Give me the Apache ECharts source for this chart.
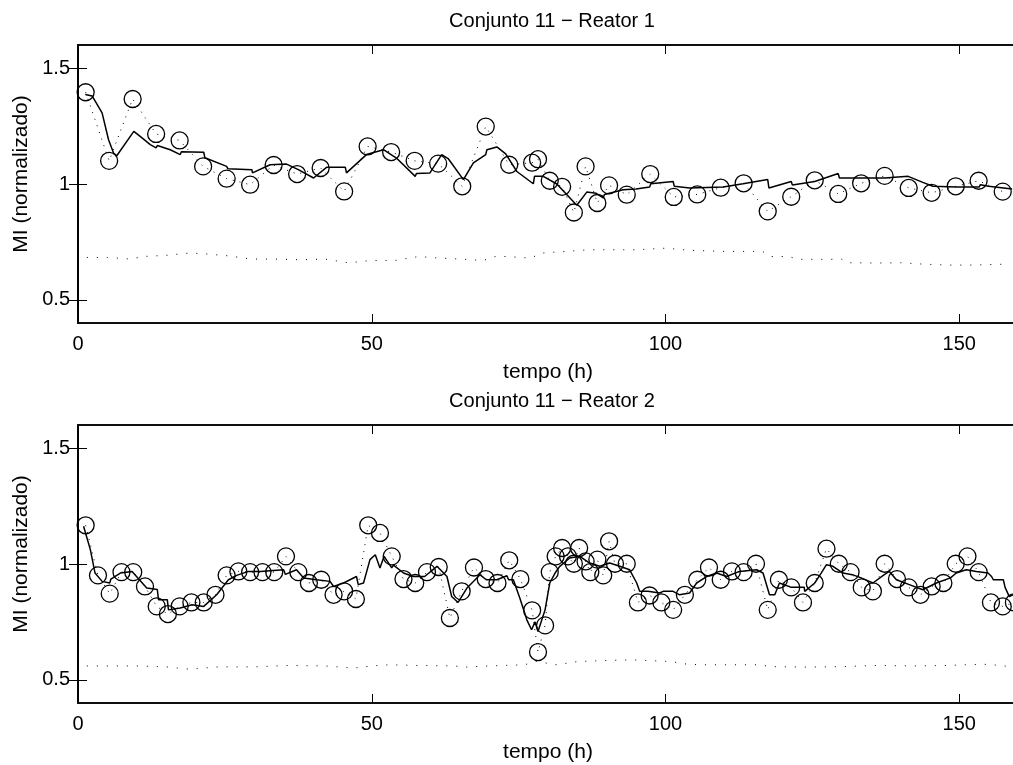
<!DOCTYPE html>
<html><head><meta charset="utf-8">
<script src="https://cdn.jsdelivr.net/npm/echarts@6/dist/echarts.min.js"></script>
<style>html,body{margin:0;padding:0;background:#fff;overflow:hidden}#c{width:1022px;height:765px}</style>
</head><body><div id="c"></div><script>
// ---------- data ----------
const titles = ['Conjunto 11 \u2212 Reator 1', 'Conjunto 11 \u2212 Reator 2'];
const xName = 'tempo (h)';
const yName = 'MI (normalizado)';
const xTicks = [0, 50, 100, 150];
const yTicks = [0.5, 1, 1.5];

// Reator 1: measured points (circles, dotted connection)
const r1MeasX = [1.3,5.3,9.3,13.3,17.3,21.3,25.3,29.3,33.3,37.3,41.3,45.3,49.3,53.3,57.3,61.3,65.4,69.4,73.4,77.3,78.3,80.3,82.4,84.4,86.4,88.4,90.4,93.4,97.4,101.4,105.4,109.4,113.3,117.4,121.4,125.4,129.4,133.3,137.3,141.4,145.3,149.4,153.3,157.4];
const r1MeasY = [1.396,1.10,1.367,1.216,1.188,1.076,1.023,0.997,1.082,1.043,1.069,0.968,1.162,1.138,1.10,1.088,0.990,1.248,1.083,1.092,1.107,1.014,0.988,0.877,1.076,0.918,0.994,0.954,1.043,0.944,0.955,0.984,1.003,0.882,0.945,1.016,0.957,1.003,1.035,0.983,0.962,0.990,1.014,0.967];
// Reator 1: model (solid)
const r1Model = [[1.24,1.386],[2.4,1.38],[4.1,1.307],[5.2,1.191],[6.05,1.134],[6.6,1.122],[9.5,1.227],[10.9,1.199],[12.3,1.17],[13.3,1.156],[13.5,1.166],[15.7,1.148],[17.4,1.127],[17.6,1.139],[21.4,1.137],[21.6,1.113],[25.3,1.076],[25.5,1.066],[29.6,1.062],[29.7,1.048],[32.7,1.083],[35.5,1.086],[37.5,1.062],[40.1,1.026],[42.3,1.072],[45.5,1.072],[45.7,1.048],[49.1,1.127],[52,1.148],[54.2,1.112],[57.4,1.033],[57.6,1.045],[59.9,1.048],[61.9,1.127],[63,1.11],[65.6,1.019],[67.3,1.091],[69.4,1.127],[69.6,1.148],[71.3,1.16],[72.8,1.13],[74.7,1.054],[77.5,1.001],[77.7,1.033],[79.2,1.033],[81.5,1.0],[84.9,0.908],[86.6,0.965],[88.2,0.96],[89.4,0.94],[89.6,0.955],[92.8,0.975],[95,0.978],[97.3,0.987],[97.5,1.001],[101.3,1.011],[101.5,0.99],[104.1,0.983],[109.8,0.987],[113.2,1.001],[117.4,1.019],[117.6,0.983],[121.4,1.011],[121.6,0.996],[125.4,1.011],[129.4,1.045],[129.6,1.026],[133.3,1.026],[137.3,1.026],[141.3,1.033],[143.8,1.007],[145.5,0.99],[149.5,0.987],[153.4,0.987],[153.6,0.997],[155,0.99],[159,0.978]];
// Reator 1: lower dotted curve
const r1Low = [[1.5,0.683],[5,0.683],[9,0.676],[11,0.687],[15,0.692],[19,0.702],[21.5,0.699],[25.5,0.690],[29.5,0.676],[33.5,0.676],[38,0.673],[42,0.676],[46,0.660],[50,0.670],[54,0.670],[58,0.687],[61,0.681],[65,0.676],[69,0.670],[71,0.687],[73,0.687],[77,0.680],[79,0.702],[83,0.709],[87,0.716],[91,0.716],[95,0.716],[100,0.723],[104,0.714],[110,0.709],[116.5,0.709],[118,0.687],[121,0.687],[122.5,0.675],[130,0.675],[131,0.660],[136,0.659],[140,0.660],[144,0.654],[148,0.650],[152,0.650],[158,0.654]];

// Reator 2
const r2MeasX = [1.3,3.4,5.4,7.4,9.4,11.4,13.4,15.3,17.3,19.3,21.4,23.4,25.3,27.3,29.3,31.4,33.4,35.4,37.5,39.3,41.4,43.5,45.3,47.3,49.4,51.4,53.4,55.4,57.4,59.4,61.4,63.3,65.3,67.4,69.4,71.4,73.4,75.3,77.3,78.3,79.5,80.3,81.3,82.4,83.4,84.4,85.3,86.4,87.2,88.4,89.4,90.4,91.4,93.4,95.3,97.3,99.3,101.3,103.3,105.4,107.4,109.4,111.3,113.3,115.4,117.4,119.3,121.4,123.4,125.4,127.4,129.5,131.5,133.4,135.3,137.3,139.4,141.4,143.4,145.3,147.3,149.4,151.4,153.3,155.4,157.4,159.3];
const r2MeasY = [1.167,0.951,0.872,0.965,0.965,0.903,0.817,0.784,0.817,0.834,0.834,0.867,0.951,0.968,0.965,0.965,0.965,1.033,0.965,0.918,0.932,0.867,0.882,0.849,1.167,1.134,1.033,0.935,0.918,0.965,0.987,0.767,0.882,0.985,0.935,0.918,1.016,0.935,0.80,0.62,0.735,0.965,1.033,1.069,1.033,1.001,1.069,1.011,0.965,1.019,0.951,1.098,1.001,1.001,0.834,0.864,0.834,0.802,0.867,0.932,0.985,0.932,0.968,0.965,1.001,0.802,0.932,0.899,0.834,0.918,1.066,1.001,0.965,0.899,0.882,1.001,0.935,0.899,0.867,0.903,0.918,1.001,1.033,0.965,0.834,0.817,0.834];
const r2Model = [[0.95,1.163],[2.1,1.062],[2.9,0.961],[4.1,0.925],[5.4,0.918],[5.6,0.935],[7.2,0.961],[9.2,0.968],[11.7,0.896],[13.5,0.89],[13.7,0.846],[15.2,0.846],[15.4,0.802],[17.4,0.81],[19.4,0.824],[21.4,0.817],[23.6,0.867],[25.6,0.932],[27,0.951],[29,0.968],[31,0.968],[35,0.975],[35.3,0.955],[37.2,0.975],[38.4,0.94],[40.6,0.932],[42.9,0.925],[43.5,0.903],[45.2,0.918],[47.4,0.946],[47.7,0.911],[48.6,0.918],[49.7,1.019],[50.6,1.04],[51.4,0.983],[52.1,1.033],[53.4,0.983],[53.7,0.995],[55.4,0.961],[57.1,0.946],[59,0.946],[61.1,0.99],[62.8,0.946],[63.6,0.86],[64.7,0.834],[66.2,0.896],[67.6,0.932],[68.4,0.954],[69.5,0.932],[71.3,0.932],[73,0.949],[73.3,0.932],[74.1,0.932],[75.2,0.853],[76.4,0.759],[77.2,0.716],[77.8,0.75],[78.3,0.709],[79.5,0.802],[80.3,0.918],[81.2,0.961],[82,0.99],[83.7,1.026],[85.4,1.033],[87.1,1.004],[88.8,0.99],[90.5,1.004],[92.2,0.99],[93.9,0.975],[95.1,0.918],[95.6,0.882],[97,0.882],[99,0.875],[99.6,0.882],[101.3,0.882],[102.4,0.867],[104.1,0.875],[105.3,0.918],[107,0.946],[108.7,0.961],[110.4,0.946],[112.6,0.968],[115.5,0.975],[116.6,0.961],[117.7,0.867],[118.6,0.867],[119.4,0.918],[121.3,0.9],[123.6,0.9],[123.7,0.882],[125.4,0.918],[126.5,0.961],[127.4,0.997],[128.5,0.99],[130.2,0.961],[131.8,0.954],[133.3,0.94],[135.3,0.918],[137.3,0.955],[138.1,0.968],[139.3,0.932],[141.5,0.911],[143.8,0.889],[146.1,0.918],[148.5,0.94],[149.5,0.961],[151.2,0.975],[152.9,0.968],[154.9,0.961],[155.5,0.946],[155.8,0.932],[157.5,0.932],[157.8,0.899],[158.5,0.86],[159.2,0.867]];
const r2Low = [[1.5,0.560],[10,0.560],[15,0.556],[19,0.546],[24,0.556],[30,0.556],[36,0.562],[42,0.560],[47,0.551],[50,0.560],[53,0.565],[58,0.562],[64,0.560],[66,0.555],[70,0.560],[76,0.565],[78,0.579],[81.5,0.565],[85,0.579],[90.7,0.584],[94.7,0.586],[100.9,0.579],[103.2,0.569],[106,0.565],[112,0.565],[116,0.565],[118,0.557],[124,0.555],[130,0.557],[136,0.562],[142,0.560],[148,0.562],[151,0.565],[155,0.567],[157.5,0.560],[159.5,0.555]];

// ---------- chart ----------
const FONT = '"Liberation Sans", Arial, Helvetica, sans-serif';
const FS = 20;
const chart = echarts.init(document.getElementById('c'), null, {renderer: 'canvas'});
const zip = (xs, ys) => xs.map((x, i) => [x, ys[i]]);
const axLine = {show: true, lineStyle: {color: '#000', width: 1.5}};
const grids = [
  {left: 78, top: 45, width: 940, height: 278, show: true, borderColor: '#000', borderWidth: 1.5, backgroundColor: '#fff'},
  {left: 78, top: 425, width: 940, height: 278, show: true, borderColor: '#000', borderWidth: 1.5, backgroundColor: '#fff'}
];
const xAxis = [], yAxis = [];
[0, 1].forEach(g => {
  xAxis.push({gridIndex: g, type: 'value', min: 0, max: 160, position: 'bottom',
    name: xName, nameLocation: 'middle', nameGap: 39,
    nameTextStyle: {fontFamily: FONT, fontSize: 21, color: '#000'},
    axisLine: axLine,
    axisTick: {show: true, inside: true, length: 9, customValues: xTicks, lineStyle: {color: '#000', width: 1}},
    axisLabel: {customValues: xTicks, margin: 11, fontFamily: FONT, fontSize: FS, color: '#000'},
    splitLine: {show: false}});
  xAxis.push({gridIndex: g, type: 'value', min: 0, max: 160, position: 'top',
    axisLine: axLine,
    axisTick: {show: true, inside: true, length: 9, customValues: xTicks, lineStyle: {color: '#000', width: 1}},
    axisLabel: {show: false}, splitLine: {show: false}});
  yAxis.push({gridIndex: g, type: 'value', min: 0.4, max: 1.6, position: 'left',
    name: yName, nameLocation: 'middle', nameGap: 46,
    nameTextStyle: {fontFamily: FONT, fontSize: 21, color: '#000', padding: [0, 0, 0, 20]},
    axisLine: axLine,
    axisTick: {show: true, inside: true, length: 9, customValues: yTicks, lineStyle: {color: '#000', width: 1}},
    axisLabel: {customValues: yTicks, margin: 8, fontFamily: FONT, fontSize: FS, color: '#000'},
    splitLine: {show: false}});
  yAxis.push({gridIndex: g, type: 'value', min: 0.4, max: 1.6, position: 'right',
    axisLine: axLine,
    axisTick: {show: true, inside: true, length: 9, customValues: yTicks, lineStyle: {color: '#000', width: 1}},
    axisLabel: {show: false}, splitLine: {show: false}});
});

function seriesFor(g, measX, measY, model, low) {
  return [
    {type: 'line', xAxisIndex: 2 * g, yAxisIndex: 2 * g, data: low, showSymbol: false, silent: true,
      lineStyle: {color: '#000', width: 1, type: [1, 9]}, z: 2},
    {type: 'line', xAxisIndex: 2 * g, yAxisIndex: 2 * g, data: zip(measX, measY), symbol: 'circle', symbolSize: 17, silent: true,
      itemStyle: {color: 'rgba(0,0,0,0)', borderColor: '#000', borderWidth: 1.3},
      lineStyle: {color: '#000', width: 1, type: [1, 6]}, z: 3},
    {type: 'line', xAxisIndex: 2 * g, yAxisIndex: 2 * g, data: model, showSymbol: false, silent: true,
      lineStyle: {color: '#000', width: 1.5}, z: 4}
  ];
}

chart.setOption({
  animation: false,
  backgroundColor: '#fff',
  title: [
    {text: titles[0], left: 547, top: 6, textAlign: 'center', textStyle: {fontFamily: FONT, fontSize: FS, fontWeight: 'normal', color: '#000'}},
    {text: titles[1], left: 547, top: 386, textAlign: 'center', textStyle: {fontFamily: FONT, fontSize: FS, fontWeight: 'normal', color: '#000'}}
  ],
  grid: grids,
  xAxis: xAxis,
  yAxis: yAxis,
  series: [].concat(seriesFor(0, r1MeasX, r1MeasY, r1Model, r1Low), seriesFor(1, r2MeasX, r2MeasY, r2Model, r2Low))
});
</script></body></html>
